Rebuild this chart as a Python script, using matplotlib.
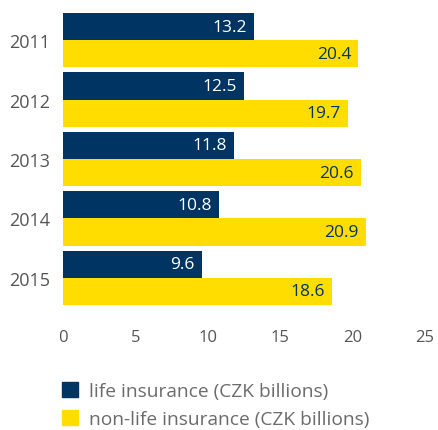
import numpy as np
import matplotlib
matplotlib.use("Agg")
import matplotlib.pyplot as plt
from matplotlib.patches import Patch

plt.rcParams["font.family"] = ["Open Sans", "DejaVu Sans"]

years = ["2011", "2012", "2013", "2014", "2015"]
life = [13.2, 12.5, 11.8, 10.8, 9.6]
non_life = [20.4, 19.7, 20.6, 20.9, 18.6]
x_ticks = [0, 5, 10, 15, 20, 25]

NAVY = "#003563"
YELLOW = "#FFDD00"
GREY = "#555555"

fig = plt.figure(figsize=(4.38, 4.31), dpi=100)
ax = fig.add_axes([63 / 438, 1 - 306 / 431, 362 / 438, 292 / 431])

pos = np.arange(len(years))
h = 0.454
ax.barh(pos - h / 2, life, height=h, color=NAVY)
ax.barh(pos + h / 2, non_life, height=h, color=YELLOW)

for p, v in zip(pos, life):
    ax.text(v - 0.5, p - h / 2, f"{v:.1f}", ha="right", va="center",
            color="white", fontsize=12.5)
for p, v in zip(pos, non_life):
    ax.text(v - 0.5, p + h / 2, f"{v:.1f}", ha="right", va="center",
            color=NAVY, fontsize=12.5)

ax.set_xlim(0, 25)
ax.set_ylim(len(years) - 1 + h, -h)
ax.set_xticks(x_ticks)
ax.set_xticklabels([str(t) for t in x_ticks])
ax.set_yticks(pos)
ax.set_yticklabels(years)
ax.tick_params(axis="x", length=0, pad=17, labelsize=12, labelcolor=GREY)
ax.tick_params(axis="y", length=0, pad=9, labelsize=13, labelcolor=GREY)
for s in ax.spines.values():
    s.set_visible(False)

handles = [Patch(color=NAVY, label="life insurance (CZK billions)"),
           Patch(color=YELLOW, label="non-life insurance (CZK billions)")]
leg = fig.legend(handles=handles, loc="upper left",
                 bbox_to_anchor=(56 / 438, 1 - 377 / 431),
                 frameon=False, fontsize=13.8, handlelength=0.85,
                 handleheight=0.85, handletextpad=0.55, labelspacing=0.5,
                 borderaxespad=0, borderpad=0.3)
for t in leg.get_texts():
    t.set_color("#6b6b6b")

fig.savefig("out.png", dpi=100)
